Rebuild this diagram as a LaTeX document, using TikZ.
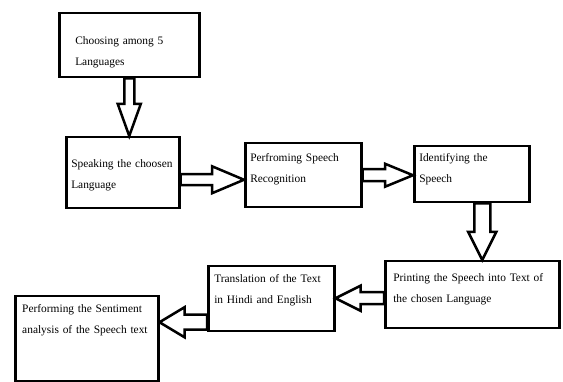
\documentclass[tikz,border=0pt]{standalone}
\usepackage{fontspec}
\setmainfont{Liberation Serif}
\usepackage{tikz}
\usetikzlibrary{calc}

\begin{document}
\begin{tikzpicture}[x=1pt, y=-1pt,
  stage/.style={draw, line width=2.5pt, anchor=north west, align=left,
    inner ysep=0pt, font=\fontsize{11.4}{21}\selectfont},
  bigarrow/.style n args={3}{draw, fill=white, line width=2.5pt, line join=miter,
    to path={let \p1=(\tikztostart), \p2=(\tikztotarget),
      \n1={atan2(\y2-\y1,\x2-\x1)}, \n2={veclen(\x2-\x1,\y2-\y1)-#3} in
      ($(\p1)+(\n1+90:#1)$) -- ($(\p1)+(\n1:\n2)+(\n1+90:#1)$)
      -- ($(\p1)+(\n1:\n2)+(\n1+90:#2)$) -- (\p2)
      -- ($(\p1)+(\n1:\n2)+(\n1-90:#2)$) -- ($(\p1)+(\n1:\n2)+(\n1-90:#1)$)
      -- ($(\p1)+(\n1-90:#1)$) -- cycle}}]
\useasboundingbox (0,0) rectangle (563,382);

\node[stage, text width=108pt, inner xsep=16pt, text height=31pt, text depth=33pt] (lang) at (58,12) {Choosing among 5\\Languages};
\node[stage, text width=103pt, inner xsep=5pt, text height=30pt, text depth=41pt] (speak) at (65,136) {Speaking the choosen\\Language};
\node[stage, text width=106pt, inner xsep=5pt, text height=18pt, text depth=46pt] (recog) at (244,142) {Perfroming Speech\\Recognition};
\node[stage, text width=105pt, inner xsep=5pt, text height=15pt, text depth=41pt] (ident) at (413,145) {Identifying the\\Speech};
\node[stage, text width=158pt, inner xsep=8pt, text height=20pt, text depth=47pt] (print) at (384,260) {Printing the Speech into Text of\\the chosen Language};
\node[stage, text width=114pt, inner xsep=6pt, text height=16pt, text depth=49pt] (trans) at (207,265) {Translation of the Text\\in Hindi and English};
\node[stage, text width=129pt, inner xsep=7pt, text height=16pt, text depth=69pt] (senti) at (14,295) {Performing the Sentiment\\analysis of the Speech text};

\draw[bigarrow={5pt}{11.5pt}{32pt}] (lang.south) to (lang.south |- speak.north);
\draw[bigarrow={5.5pt}{13.5pt}{32pt}] ([yshift=-7pt]speak.east) to ([yshift=-7pt]speak.east -| recog.west);
\draw[bigarrow={6pt}{11.5pt}{28pt}] (recog.east) to (recog.east -| ident.west);
\draw[bigarrow={8pt}{14pt}{28pt}] ([xshift=10.5pt]ident.south) to ([xshift=10.5pt]ident.south |- print.north);
\draw[bigarrow={6pt}{12.5pt}{25pt}] ([yshift=-3.5pt]print.west) to ([yshift=-3.5pt]print.west -| trans.east);
\draw[bigarrow={7.5pt}{15pt}{25pt}] ([yshift=-23.5pt]trans.west) to ([yshift=-23.5pt]trans.west -| senti.east);

\end{tikzpicture}
\end{document}
